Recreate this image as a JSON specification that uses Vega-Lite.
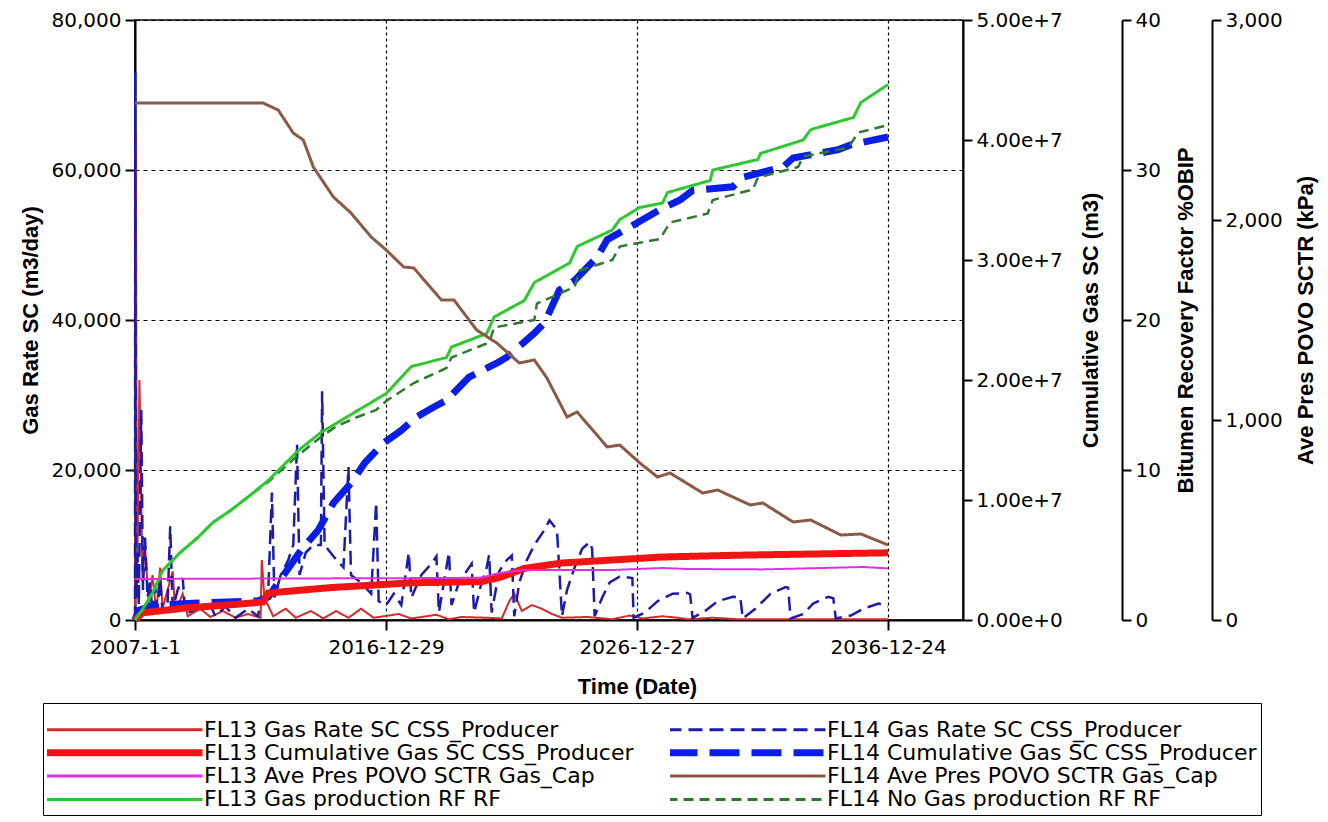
{
"$schema": "https://vega.github.io/schema/vega-lite/v6.json",
"width": 828, "height": 600,
"autosize": {"type": "none"},
"padding": {"left": 135, "top": 20, "right": 365, "bottom": 202},
"background": "white",
"config": {
 "view": {"stroke": "black", "strokeWidth": 1.5},
 "axis": {"labelFont": "DejaVu Sans", "labelFontSize": 20, "labelColor": "black", "titleFont": "Liberation Sans", "titleFontSize": 22, "titleFontWeight": "bold", "titleColor": "black", "domainColor": "black", "domainWidth": 2, "tickColor": "black", "tickWidth": 2, "tickSize": 10, "labelPadding": 5, "labelOverlap": false, "labelFlush": false, "labelBound": false},
 "line": {"interpolate": "linear"}
},
"datasets": {
 "a": [
  {"series":"FL13 Gas Rate SC CSS_Producer","date":"2007-01-01","value":0},
  {"series":"FL13 Gas Rate SC CSS_Producer","date":"2007-01-12","value":65000},
  {"series":"FL13 Gas Rate SC CSS_Producer","date":"2007-01-30","value":3000},
  {"series":"FL13 Gas Rate SC CSS_Producer","date":"2007-03-07","value":32000},
  {"series":"FL13 Gas Rate SC CSS_Producer","date":"2007-04-20","value":5000},
  {"series":"FL13 Gas Rate SC CSS_Producer","date":"2007-05-27","value":10000},
  {"series":"FL13 Gas Rate SC CSS_Producer","date":"2007-07-20","value":2000},
  {"series":"FL13 Gas Rate SC CSS_Producer","date":"2007-09-13","value":6000},
  {"series":"FL13 Gas Rate SC CSS_Producer","date":"2007-11-07","value":1000},
  {"series":"FL13 Gas Rate SC CSS_Producer","date":"2008-01-01","value":7000},
  {"series":"FL13 Gas Rate SC CSS_Producer","date":"2008-02-06","value":1500},
  {"series":"FL13 Gas Rate SC CSS_Producer","date":"2008-07-02","value":6500},
  {"series":"FL13 Gas Rate SC CSS_Producer","date":"2008-08-08","value":1000},
  {"series":"FL13 Gas Rate SC CSS_Producer","date":"2008-11-25","value":3500},
  {"series":"FL13 Gas Rate SC CSS_Producer","date":"2009-02-06","value":500},
  {"series":"FL13 Gas Rate SC CSS_Producer","date":"2009-08-08","value":1500},
  {"series":"FL13 Gas Rate SC CSS_Producer","date":"2010-01-01","value":400},
  {"series":"FL13 Gas Rate SC CSS_Producer","date":"2010-07-02","value":1200},
  {"series":"FL13 Gas Rate SC CSS_Producer","date":"2011-01-01","value":300},
  {"series":"FL13 Gas Rate SC CSS_Producer","date":"2011-07-02","value":800},
  {"series":"FL13 Gas Rate SC CSS_Producer","date":"2012-01-01","value":300},
  {"series":"FL13 Gas Rate SC CSS_Producer","date":"2012-01-19","value":8000},
  {"series":"FL13 Gas Rate SC CSS_Producer","date":"2012-02-25","value":3000},
  {"series":"FL13 Gas Rate SC CSS_Producer","date":"2012-07-02","value":500},
  {"series":"FL13 Gas Rate SC CSS_Producer","date":"2013-01-01","value":1500},
  {"series":"FL13 Gas Rate SC CSS_Producer","date":"2013-05-27","value":300},
  {"series":"FL13 Gas Rate SC CSS_Producer","date":"2014-01-01","value":1200},
  {"series":"FL13 Gas Rate SC CSS_Producer","date":"2014-07-02","value":200},
  {"series":"FL13 Gas Rate SC CSS_Producer","date":"2015-01-01","value":1200},
  {"series":"FL13 Gas Rate SC CSS_Producer","date":"2015-07-02","value":300},
  {"series":"FL13 Gas Rate SC CSS_Producer","date":"2016-01-01","value":1500},
  {"series":"FL13 Gas Rate SC CSS_Producer","date":"2016-07-02","value":300},
  {"series":"FL13 Gas Rate SC CSS_Producer","date":"2017-07-02","value":800},
  {"series":"FL13 Gas Rate SC CSS_Producer","date":"2018-01-01","value":200},
  {"series":"FL13 Gas Rate SC CSS_Producer","date":"2019-01-01","value":700},
  {"series":"FL13 Gas Rate SC CSS_Producer","date":"2019-07-02","value":100},
  {"series":"FL13 Gas Rate SC CSS_Producer","date":"2020-01-01","value":400},
  {"series":"FL13 Gas Rate SC CSS_Producer","date":"2021-01-01","value":300},
  {"series":"FL13 Gas Rate SC CSS_Producer","date":"2021-08-08","value":200},
  {"series":"FL13 Gas Rate SC CSS_Producer","date":"2021-11-25","value":2500},
  {"series":"FL13 Gas Rate SC CSS_Producer","date":"2022-02-06","value":3500},
  {"series":"FL13 Gas Rate SC CSS_Producer","date":"2022-05-27","value":1200},
  {"series":"FL13 Gas Rate SC CSS_Producer","date":"2022-10-20","value":2000},
  {"series":"FL13 Gas Rate SC CSS_Producer","date":"2023-03-14","value":1500},
  {"series":"FL13 Gas Rate SC CSS_Producer","date":"2023-08-08","value":800},
  {"series":"FL13 Gas Rate SC CSS_Producer","date":"2024-01-01","value":300},
  {"series":"FL13 Gas Rate SC CSS_Producer","date":"2025-01-01","value":400},
  {"series":"FL13 Gas Rate SC CSS_Producer","date":"2026-01-01","value":100},
  {"series":"FL13 Gas Rate SC CSS_Producer","date":"2026-09-13","value":600},
  {"series":"FL13 Gas Rate SC CSS_Producer","date":"2027-03-14","value":200},
  {"series":"FL13 Gas Rate SC CSS_Producer","date":"2028-01-01","value":500},
  {"series":"FL13 Gas Rate SC CSS_Producer","date":"2028-08-08","value":300},
  {"series":"FL13 Gas Rate SC CSS_Producer","date":"2029-01-01","value":100},
  {"series":"FL13 Gas Rate SC CSS_Producer","date":"2030-01-01","value":300},
  {"series":"FL13 Gas Rate SC CSS_Producer","date":"2031-01-01","value":100},
  {"series":"FL13 Gas Rate SC CSS_Producer","date":"2036-12-24","value":100}
 ],
 "b": [
  {"series":"FL14 Gas Rate SC CSS_Producer","date":"2007-01-01","value":0},
  {"series":"FL14 Gas Rate SC CSS_Producer","date":"2007-01-05","value":73000},
  {"series":"FL14 Gas Rate SC CSS_Producer","date":"2007-01-15","value":3000},
  {"series":"FL14 Gas Rate SC CSS_Producer","date":"2007-02-06","value":9000},
  {"series":"FL14 Gas Rate SC CSS_Producer","date":"2007-02-25","value":2000},
  {"series":"FL14 Gas Rate SC CSS_Producer","date":"2007-04-02","value":28000},
  {"series":"FL14 Gas Rate SC CSS_Producer","date":"2007-04-27","value":4000},
  {"series":"FL14 Gas Rate SC CSS_Producer","date":"2007-05-27","value":11000},
  {"series":"FL14 Gas Rate SC CSS_Producer","date":"2007-07-02","value":3000},
  {"series":"FL14 Gas Rate SC CSS_Producer","date":"2007-08-08","value":5000},
  {"series":"FL14 Gas Rate SC CSS_Producer","date":"2007-09-13","value":1000},
  {"series":"FL14 Gas Rate SC CSS_Producer","date":"2007-10-20","value":4500},
  {"series":"FL14 Gas Rate SC CSS_Producer","date":"2007-11-25","value":1500},
  {"series":"FL14 Gas Rate SC CSS_Producer","date":"2008-01-01","value":5500},
  {"series":"FL14 Gas Rate SC CSS_Producer","date":"2008-02-06","value":1000},
  {"series":"FL14 Gas Rate SC CSS_Producer","date":"2008-04-20","value":2500},
  {"series":"FL14 Gas Rate SC CSS_Producer","date":"2008-05-27","value":12500},
  {"series":"FL14 Gas Rate SC CSS_Producer","date":"2008-07-02","value":1500},
  {"series":"FL14 Gas Rate SC CSS_Producer","date":"2008-09-13","value":4000},
  {"series":"FL14 Gas Rate SC CSS_Producer","date":"2008-11-25","value":5600},
  {"series":"FL14 Gas Rate SC CSS_Producer","date":"2009-01-01","value":800},
  {"series":"FL14 Gas Rate SC CSS_Producer","date":"2009-07-02","value":1500},
  {"series":"FL14 Gas Rate SC CSS_Producer","date":"2010-01-01","value":2000},
  {"series":"FL14 Gas Rate SC CSS_Producer","date":"2010-03-14","value":500},
  {"series":"FL14 Gas Rate SC CSS_Producer","date":"2010-08-08","value":1800},
  {"series":"FL14 Gas Rate SC CSS_Producer","date":"2011-01-01","value":300},
  {"series":"FL14 Gas Rate SC CSS_Producer","date":"2011-07-02","value":1500},
  {"series":"FL14 Gas Rate SC CSS_Producer","date":"2011-11-25","value":500},
  {"series":"FL14 Gas Rate SC CSS_Producer","date":"2012-01-01","value":2500},
  {"series":"FL14 Gas Rate SC CSS_Producer","date":"2012-04-20","value":3500},
  {"series":"FL14 Gas Rate SC CSS_Producer","date":"2012-06-14","value":17000},
  {"series":"FL14 Gas Rate SC CSS_Producer","date":"2012-07-20","value":3000},
  {"series":"FL14 Gas Rate SC CSS_Producer","date":"2012-10-20","value":6000},
  {"series":"FL14 Gas Rate SC CSS_Producer","date":"2013-02-06","value":8000},
  {"series":"FL14 Gas Rate SC CSS_Producer","date":"2013-04-20","value":10000},
  {"series":"FL14 Gas Rate SC CSS_Producer","date":"2013-06-14","value":23500},
  {"series":"FL14 Gas Rate SC CSS_Producer","date":"2013-07-20","value":6000},
  {"series":"FL14 Gas Rate SC CSS_Producer","date":"2013-10-20","value":9000},
  {"series":"FL14 Gas Rate SC CSS_Producer","date":"2014-02-06","value":10000},
  {"series":"FL14 Gas Rate SC CSS_Producer","date":"2014-05-27","value":10000},
  {"series":"FL14 Gas Rate SC CSS_Producer","date":"2014-06-14","value":30500},
  {"series":"FL14 Gas Rate SC CSS_Producer","date":"2014-07-20","value":10000},
  {"series":"FL14 Gas Rate SC CSS_Producer","date":"2014-11-25","value":8500},
  {"series":"FL14 Gas Rate SC CSS_Producer","date":"2015-04-20","value":7000},
  {"series":"FL14 Gas Rate SC CSS_Producer","date":"2015-07-02","value":20400},
  {"series":"FL14 Gas Rate SC CSS_Producer","date":"2015-08-08","value":6000},
  {"series":"FL14 Gas Rate SC CSS_Producer","date":"2016-01-01","value":5000},
  {"series":"FL14 Gas Rate SC CSS_Producer","date":"2016-05-27","value":3500},
  {"series":"FL14 Gas Rate SC CSS_Producer","date":"2016-08-08","value":15700},
  {"series":"FL14 Gas Rate SC CSS_Producer","date":"2016-09-13","value":2500},
  {"series":"FL14 Gas Rate SC CSS_Producer","date":"2017-01-01","value":2000},
  {"series":"FL14 Gas Rate SC CSS_Producer","date":"2017-04-20","value":3500},
  {"series":"FL14 Gas Rate SC CSS_Producer","date":"2017-08-08","value":2000},
  {"series":"FL14 Gas Rate SC CSS_Producer","date":"2017-11-25","value":9000},
  {"series":"FL14 Gas Rate SC CSS_Producer","date":"2018-01-01","value":3000},
  {"series":"FL14 Gas Rate SC CSS_Producer","date":"2018-05-27","value":6000},
  {"series":"FL14 Gas Rate SC CSS_Producer","date":"2018-10-20","value":7500},
  {"series":"FL14 Gas Rate SC CSS_Producer","date":"2019-01-01","value":8500},
  {"series":"FL14 Gas Rate SC CSS_Producer","date":"2019-02-06","value":1000},
  {"series":"FL14 Gas Rate SC CSS_Producer","date":"2019-07-02","value":9000},
  {"series":"FL14 Gas Rate SC CSS_Producer","date":"2019-08-08","value":2000},
  {"series":"FL14 Gas Rate SC CSS_Producer","date":"2019-11-25","value":5000},
  {"series":"FL14 Gas Rate SC CSS_Producer","date":"2020-03-14","value":6500},
  {"series":"FL14 Gas Rate SC CSS_Producer","date":"2020-05-27","value":7500},
  {"series":"FL14 Gas Rate SC CSS_Producer","date":"2020-07-02","value":1000},
  {"series":"FL14 Gas Rate SC CSS_Producer","date":"2020-10-20","value":5000},
  {"series":"FL14 Gas Rate SC CSS_Producer","date":"2021-01-01","value":7000},
  {"series":"FL14 Gas Rate SC CSS_Producer","date":"2021-02-06","value":8700},
  {"series":"FL14 Gas Rate SC CSS_Producer","date":"2021-03-14","value":1000},
  {"series":"FL14 Gas Rate SC CSS_Producer","date":"2021-07-02","value":6500},
  {"series":"FL14 Gas Rate SC CSS_Producer","date":"2021-10-20","value":8000},
  {"series":"FL14 Gas Rate SC CSS_Producer","date":"2022-01-01","value":8600},
  {"series":"FL14 Gas Rate SC CSS_Producer","date":"2022-02-06","value":500},
  {"series":"FL14 Gas Rate SC CSS_Producer","date":"2022-04-20","value":5000},
  {"series":"FL14 Gas Rate SC CSS_Producer","date":"2022-08-08","value":8000},
  {"series":"FL14 Gas Rate SC CSS_Producer","date":"2022-11-25","value":10000},
  {"series":"FL14 Gas Rate SC CSS_Producer","date":"2023-04-20","value":12000},
  {"series":"FL14 Gas Rate SC CSS_Producer","date":"2023-07-02","value":13300},
  {"series":"FL14 Gas Rate SC CSS_Producer","date":"2023-10-20","value":12000},
  {"series":"FL14 Gas Rate SC CSS_Producer","date":"2024-01-01","value":500},
  {"series":"FL14 Gas Rate SC CSS_Producer","date":"2024-03-14","value":4000},
  {"series":"FL14 Gas Rate SC CSS_Producer","date":"2024-07-02","value":7000},
  {"series":"FL14 Gas Rate SC CSS_Producer","date":"2024-10-20","value":9500},
  {"series":"FL14 Gas Rate SC CSS_Producer","date":"2025-02-06","value":10400},
  {"series":"FL14 Gas Rate SC CSS_Producer","date":"2025-03-14","value":9500},
  {"series":"FL14 Gas Rate SC CSS_Producer","date":"2025-04-20","value":500},
  {"series":"FL14 Gas Rate SC CSS_Producer","date":"2025-08-08","value":3000},
  {"series":"FL14 Gas Rate SC CSS_Producer","date":"2025-11-25","value":5000},
  {"series":"FL14 Gas Rate SC CSS_Producer","date":"2026-04-20","value":5800},
  {"series":"FL14 Gas Rate SC CSS_Producer","date":"2026-10-20","value":5600},
  {"series":"FL14 Gas Rate SC CSS_Producer","date":"2026-11-07","value":300},
  {"series":"FL14 Gas Rate SC CSS_Producer","date":"2027-04-20","value":1000},
  {"series":"FL14 Gas Rate SC CSS_Producer","date":"2027-10-20","value":2500},
  {"series":"FL14 Gas Rate SC CSS_Producer","date":"2028-05-27","value":3500},
  {"series":"FL14 Gas Rate SC CSS_Producer","date":"2029-01-01","value":3600},
  {"series":"FL14 Gas Rate SC CSS_Producer","date":"2029-02-06","value":3400},
  {"series":"FL14 Gas Rate SC CSS_Producer","date":"2029-03-14","value":300},
  {"series":"FL14 Gas Rate SC CSS_Producer","date":"2029-09-13","value":1200},
  {"series":"FL14 Gas Rate SC CSS_Producer","date":"2030-03-14","value":2500},
  {"series":"FL14 Gas Rate SC CSS_Producer","date":"2030-10-20","value":3100},
  {"series":"FL14 Gas Rate SC CSS_Producer","date":"2031-02-06","value":3000},
  {"series":"FL14 Gas Rate SC CSS_Producer","date":"2031-03-14","value":200},
  {"series":"FL14 Gas Rate SC CSS_Producer","date":"2031-09-13","value":1500},
  {"series":"FL14 Gas Rate SC CSS_Producer","date":"2032-04-20","value":3500},
  {"series":"FL14 Gas Rate SC CSS_Producer","date":"2032-11-25","value":4400},
  {"series":"FL14 Gas Rate SC CSS_Producer","date":"2033-01-01","value":4300},
  {"series":"FL14 Gas Rate SC CSS_Producer","date":"2033-02-06","value":200},
  {"series":"FL14 Gas Rate SC CSS_Producer","date":"2033-08-08","value":800},
  {"series":"FL14 Gas Rate SC CSS_Producer","date":"2034-01-01","value":2200},
  {"series":"FL14 Gas Rate SC CSS_Producer","date":"2034-08-08","value":3100},
  {"series":"FL14 Gas Rate SC CSS_Producer","date":"2034-10-20","value":2900},
  {"series":"FL14 Gas Rate SC CSS_Producer","date":"2034-11-25","value":200},
  {"series":"FL14 Gas Rate SC CSS_Producer","date":"2035-07-02","value":600},
  {"series":"FL14 Gas Rate SC CSS_Producer","date":"2036-01-01","value":1500},
  {"series":"FL14 Gas Rate SC CSS_Producer","date":"2036-08-08","value":2200},
  {"series":"FL14 Gas Rate SC CSS_Producer","date":"2036-12-24","value":1800}
 ],
 "c": [
  {"series":"FL13 Cumulative Gas SC CSS_Producer","date":"2007-01-01","value":0},
  {"series":"FL13 Cumulative Gas SC CSS_Producer","date":"2007-04-20","value":600000},
  {"series":"FL13 Cumulative Gas SC CSS_Producer","date":"2009-01-01","value":1000000},
  {"series":"FL13 Cumulative Gas SC CSS_Producer","date":"2011-01-01","value":1300000},
  {"series":"FL13 Cumulative Gas SC CSS_Producer","date":"2012-02-06","value":1500000},
  {"series":"FL13 Cumulative Gas SC CSS_Producer","date":"2012-04-20","value":2250000},
  {"series":"FL13 Cumulative Gas SC CSS_Producer","date":"2014-10-20","value":2700000},
  {"series":"FL13 Cumulative Gas SC CSS_Producer","date":"2018-01-01","value":3100000},
  {"series":"FL13 Cumulative Gas SC CSS_Producer","date":"2020-10-20","value":3200000},
  {"series":"FL13 Cumulative Gas SC CSS_Producer","date":"2021-08-08","value":3600000},
  {"series":"FL13 Cumulative Gas SC CSS_Producer","date":"2022-07-02","value":4300000},
  {"series":"FL13 Cumulative Gas SC CSS_Producer","date":"2024-01-01","value":4750000},
  {"series":"FL13 Cumulative Gas SC CSS_Producer","date":"2026-01-01","value":5000000},
  {"series":"FL13 Cumulative Gas SC CSS_Producer","date":"2028-01-01","value":5250000},
  {"series":"FL13 Cumulative Gas SC CSS_Producer","date":"2031-01-01","value":5400000},
  {"series":"FL13 Cumulative Gas SC CSS_Producer","date":"2036-12-24","value":5600000}
 ],
 "d": [
  {"series":"FL14 Cumulative Gas SC CSS_Producer","date":"2007-01-01","value":0},
  {"series":"FL14 Cumulative Gas SC CSS_Producer","date":"2007-02-25","value":800000},
  {"series":"FL14 Cumulative Gas SC CSS_Producer","date":"2007-09-13","value":1200000},
  {"series":"FL14 Cumulative Gas SC CSS_Producer","date":"2009-04-20","value":1400000},
  {"series":"FL14 Cumulative Gas SC CSS_Producer","date":"2011-11-25","value":1600000},
  {"series":"FL14 Cumulative Gas SC CSS_Producer","date":"2012-04-20","value":1900000},
  {"series":"FL14 Cumulative Gas SC CSS_Producer","date":"2013-08-08","value":5800000},
  {"series":"FL14 Cumulative Gas SC CSS_Producer","date":"2014-04-20","value":7500000},
  {"series":"FL14 Cumulative Gas SC CSS_Producer","date":"2014-11-25","value":9750000},
  {"series":"FL14 Cumulative Gas SC CSS_Producer","date":"2015-08-08","value":11400000},
  {"series":"FL14 Cumulative Gas SC CSS_Producer","date":"2016-02-25","value":13100000},
  {"series":"FL14 Cumulative Gas SC CSS_Producer","date":"2016-11-25","value":14750000},
  {"series":"FL14 Cumulative Gas SC CSS_Producer","date":"2017-08-08","value":15800000},
  {"series":"FL14 Cumulative Gas SC CSS_Producer","date":"2018-03-14","value":16900000},
  {"series":"FL14 Cumulative Gas SC CSS_Producer","date":"2018-11-25","value":17750000},
  {"series":"FL14 Cumulative Gas SC CSS_Producer","date":"2019-05-27","value":18300000},
  {"series":"FL14 Cumulative Gas SC CSS_Producer","date":"2020-04-20","value":20250000},
  {"series":"FL14 Cumulative Gas SC CSS_Producer","date":"2021-05-27","value":21400000},
  {"series":"FL14 Cumulative Gas SC CSS_Producer","date":"2021-10-20","value":21900000},
  {"series":"FL14 Cumulative Gas SC CSS_Producer","date":"2022-11-25","value":23900000},
  {"series":"FL14 Cumulative Gas SC CSS_Producer","date":"2023-04-20","value":24750000},
  {"series":"FL14 Cumulative Gas SC CSS_Producer","date":"2023-11-25","value":27500000},
  {"series":"FL14 Cumulative Gas SC CSS_Producer","date":"2024-07-02","value":28300000},
  {"series":"FL14 Cumulative Gas SC CSS_Producer","date":"2025-05-27","value":30250000},
  {"series":"FL14 Cumulative Gas SC CSS_Producer","date":"2025-10-20","value":31700000},
  {"series":"FL14 Cumulative Gas SC CSS_Producer","date":"2027-01-01","value":33100000},
  {"series":"FL14 Cumulative Gas SC CSS_Producer","date":"2027-11-25","value":34200000},
  {"series":"FL14 Cumulative Gas SC CSS_Producer","date":"2028-09-13","value":35000000},
  {"series":"FL14 Cumulative Gas SC CSS_Producer","date":"2029-03-14","value":35800000},
  {"series":"FL14 Cumulative Gas SC CSS_Producer","date":"2030-10-20","value":36100000},
  {"series":"FL14 Cumulative Gas SC CSS_Producer","date":"2031-03-14","value":36900000},
  {"series":"FL14 Cumulative Gas SC CSS_Producer","date":"2032-10-20","value":37750000},
  {"series":"FL14 Cumulative Gas SC CSS_Producer","date":"2033-03-14","value":38500000},
  {"series":"FL14 Cumulative Gas SC CSS_Producer","date":"2035-01-01","value":39200000},
  {"series":"FL14 Cumulative Gas SC CSS_Producer","date":"2035-07-02","value":39600000},
  {"series":"FL14 Cumulative Gas SC CSS_Producer","date":"2036-12-24","value":40250000}
 ],
 "e": [
  {"series":"FL13 Ave Pres POVO SCTR Gas_Cap","date":"2007-01-01","value":205},
  {"series":"FL13 Ave Pres POVO SCTR Gas_Cap","date":"2019-07-02","value":210},
  {"series":"FL13 Ave Pres POVO SCTR Gas_Cap","date":"2020-10-20","value":212},
  {"series":"FL13 Ave Pres POVO SCTR Gas_Cap","date":"2021-07-02","value":235},
  {"series":"FL13 Ave Pres POVO SCTR Gas_Cap","date":"2022-07-02","value":250},
  {"series":"FL13 Ave Pres POVO SCTR Gas_Cap","date":"2026-01-01","value":250},
  {"series":"FL13 Ave Pres POVO SCTR Gas_Cap","date":"2028-01-01","value":260},
  {"series":"FL13 Ave Pres POVO SCTR Gas_Cap","date":"2029-01-01","value":255},
  {"series":"FL13 Ave Pres POVO SCTR Gas_Cap","date":"2032-01-01","value":253},
  {"series":"FL13 Ave Pres POVO SCTR Gas_Cap","date":"2035-01-01","value":262},
  {"series":"FL13 Ave Pres POVO SCTR Gas_Cap","date":"2036-01-01","value":265},
  {"series":"FL13 Ave Pres POVO SCTR Gas_Cap","date":"2036-12-24","value":258}
 ],
 "f": [
  {"series":"FL14 Ave Pres POVO SCTR Gas_Cap","date":"2007-01-01","value":2585},
  {"series":"FL14 Ave Pres POVO SCTR Gas_Cap","date":"2012-02-06","value":2585},
  {"series":"FL14 Ave Pres POVO SCTR Gas_Cap","date":"2012-09-13","value":2550},
  {"series":"FL14 Ave Pres POVO SCTR Gas_Cap","date":"2013-04-20","value":2435},
  {"series":"FL14 Ave Pres POVO SCTR Gas_Cap","date":"2013-09-13","value":2400},
  {"series":"FL14 Ave Pres POVO SCTR Gas_Cap","date":"2014-02-06","value":2265},
  {"series":"FL14 Ave Pres POVO SCTR Gas_Cap","date":"2014-11-25","value":2115},
  {"series":"FL14 Ave Pres POVO SCTR Gas_Cap","date":"2015-08-08","value":2035},
  {"series":"FL14 Ave Pres POVO SCTR Gas_Cap","date":"2016-05-27","value":1915},
  {"series":"FL14 Ave Pres POVO SCTR Gas_Cap","date":"2017-01-01","value":1850},
  {"series":"FL14 Ave Pres POVO SCTR Gas_Cap","date":"2017-09-13","value":1765},
  {"series":"FL14 Ave Pres POVO SCTR Gas_Cap","date":"2018-02-06","value":1760},
  {"series":"FL14 Ave Pres POVO SCTR Gas_Cap","date":"2019-03-14","value":1600},
  {"series":"FL14 Ave Pres POVO SCTR Gas_Cap","date":"2019-09-13","value":1600},
  {"series":"FL14 Ave Pres POVO SCTR Gas_Cap","date":"2020-08-08","value":1450},
  {"series":"FL14 Ave Pres POVO SCTR Gas_Cap","date":"2021-05-27","value":1385},
  {"series":"FL14 Ave Pres POVO SCTR Gas_Cap","date":"2022-04-20","value":1285},
  {"series":"FL14 Ave Pres POVO SCTR Gas_Cap","date":"2022-11-25","value":1300},
  {"series":"FL14 Ave Pres POVO SCTR Gas_Cap","date":"2023-05-27","value":1210},
  {"series":"FL14 Ave Pres POVO SCTR Gas_Cap","date":"2024-03-14","value":1015},
  {"series":"FL14 Ave Pres POVO SCTR Gas_Cap","date":"2024-08-08","value":1040},
  {"series":"FL14 Ave Pres POVO SCTR Gas_Cap","date":"2025-10-20","value":865},
  {"series":"FL14 Ave Pres POVO SCTR Gas_Cap","date":"2026-04-20","value":875},
  {"series":"FL14 Ave Pres POVO SCTR Gas_Cap","date":"2027-02-06","value":785},
  {"series":"FL14 Ave Pres POVO SCTR Gas_Cap","date":"2027-10-20","value":715},
  {"series":"FL14 Ave Pres POVO SCTR Gas_Cap","date":"2028-04-20","value":735},
  {"series":"FL14 Ave Pres POVO SCTR Gas_Cap","date":"2029-08-08","value":635},
  {"series":"FL14 Ave Pres POVO SCTR Gas_Cap","date":"2030-03-14","value":650},
  {"series":"FL14 Ave Pres POVO SCTR Gas_Cap","date":"2031-07-02","value":575},
  {"series":"FL14 Ave Pres POVO SCTR Gas_Cap","date":"2032-01-01","value":585},
  {"series":"FL14 Ave Pres POVO SCTR Gas_Cap","date":"2033-03-14","value":490},
  {"series":"FL14 Ave Pres POVO SCTR Gas_Cap","date":"2033-11-25","value":500},
  {"series":"FL14 Ave Pres POVO SCTR Gas_Cap","date":"2035-02-06","value":425},
  {"series":"FL14 Ave Pres POVO SCTR Gas_Cap","date":"2035-11-25","value":430},
  {"series":"FL14 Ave Pres POVO SCTR Gas_Cap","date":"2036-12-24","value":375}
 ],
 "g": [
  {"series":"FL13 Gas production RF RF","date":"2007-01-01","value":0},
  {"series":"FL13 Gas production RF RF","date":"2007-04-20","value":0.7},
  {"series":"FL13 Gas production RF RF","date":"2007-09-13","value":1.8},
  {"series":"FL13 Gas production RF RF","date":"2008-02-06","value":3.3},
  {"series":"FL13 Gas production RF RF","date":"2008-10-20","value":4.5},
  {"series":"FL13 Gas production RF RF","date":"2009-07-02","value":5.5},
  {"series":"FL13 Gas production RF RF","date":"2010-02-06","value":6.5},
  {"series":"FL13 Gas production RF RF","date":"2010-10-20","value":7.3},
  {"series":"FL13 Gas production RF RF","date":"2011-07-02","value":8.2},
  {"series":"FL13 Gas production RF RF","date":"2012-04-20","value":9.3},
  {"series":"FL13 Gas production RF RF","date":"2013-07-02","value":11.3},
  {"series":"FL13 Gas production RF RF","date":"2014-05-27","value":12.5},
  {"series":"FL13 Gas production RF RF","date":"2015-05-27","value":13.5},
  {"series":"FL13 Gas production RF RF","date":"2016-08-08","value":14.7},
  {"series":"FL13 Gas production RF RF","date":"2017-01-01","value":15.1},
  {"series":"FL13 Gas production RF RF","date":"2018-01-01","value":16.9},
  {"series":"FL13 Gas production RF RF","date":"2019-05-27","value":17.5},
  {"series":"FL13 Gas production RF RF","date":"2019-08-08","value":18.2},
  {"series":"FL13 Gas production RF RF","date":"2021-01-01","value":19.1},
  {"series":"FL13 Gas production RF RF","date":"2021-04-20","value":20.2},
  {"series":"FL13 Gas production RF RF","date":"2022-07-02","value":21.3},
  {"series":"FL13 Gas production RF RF","date":"2022-11-25","value":22.5},
  {"series":"FL13 Gas production RF RF","date":"2024-04-20","value":23.8},
  {"series":"FL13 Gas production RF RF","date":"2024-08-08","value":24.9},
  {"series":"FL13 Gas production RF RF","date":"2026-01-01","value":26.0},
  {"series":"FL13 Gas production RF RF","date":"2026-04-20","value":26.7},
  {"series":"FL13 Gas production RF RF","date":"2027-02-06","value":27.5},
  {"series":"FL13 Gas production RF RF","date":"2028-01-01","value":27.8},
  {"series":"FL13 Gas production RF RF","date":"2028-03-14","value":28.5},
  {"series":"FL13 Gas production RF RF","date":"2029-11-25","value":29.3},
  {"series":"FL13 Gas production RF RF","date":"2030-01-01","value":30.0},
  {"series":"FL13 Gas production RF RF","date":"2031-10-20","value":30.7},
  {"series":"FL13 Gas production RF RF","date":"2031-11-25","value":31.1},
  {"series":"FL13 Gas production RF RF","date":"2033-08-08","value":32.0},
  {"series":"FL13 Gas production RF RF","date":"2033-11-25","value":32.7},
  {"series":"FL13 Gas production RF RF","date":"2035-08-08","value":33.5},
  {"series":"FL13 Gas production RF RF","date":"2035-11-25","value":34.5},
  {"series":"FL13 Gas production RF RF","date":"2036-12-24","value":35.7}
 ],
 "h": [
  {"series":"FL14 No Gas production RF RF","date":"2007-01-01","value":0},
  {"series":"FL14 No Gas production RF RF","date":"2007-04-20","value":0.7},
  {"series":"FL14 No Gas production RF RF","date":"2007-09-13","value":1.8},
  {"series":"FL14 No Gas production RF RF","date":"2008-02-06","value":3.3},
  {"series":"FL14 No Gas production RF RF","date":"2008-10-20","value":4.5},
  {"series":"FL14 No Gas production RF RF","date":"2009-07-02","value":5.5},
  {"series":"FL14 No Gas production RF RF","date":"2010-02-06","value":6.5},
  {"series":"FL14 No Gas production RF RF","date":"2010-10-20","value":7.3},
  {"series":"FL14 No Gas production RF RF","date":"2011-07-02","value":8.2},
  {"series":"FL14 No Gas production RF RF","date":"2012-04-20","value":9.2},
  {"series":"FL14 No Gas production RF RF","date":"2013-07-02","value":11.0},
  {"series":"FL14 No Gas production RF RF","date":"2014-05-27","value":12.2},
  {"series":"FL14 No Gas production RF RF","date":"2015-01-01","value":12.9},
  {"series":"FL14 No Gas production RF RF","date":"2015-10-20","value":13.5},
  {"series":"FL14 No Gas production RF RF","date":"2016-08-08","value":14.0},
  {"series":"FL14 No Gas production RF RF","date":"2017-01-01","value":14.6},
  {"series":"FL14 No Gas production RF RF","date":"2018-02-06","value":15.8},
  {"series":"FL14 No Gas production RF RF","date":"2019-05-27","value":16.8},
  {"series":"FL14 No Gas production RF RF","date":"2019-08-08","value":17.5},
  {"series":"FL14 No Gas production RF RF","date":"2021-02-06","value":18.5},
  {"series":"FL14 No Gas production RF RF","date":"2021-04-20","value":19.5},
  {"series":"FL14 No Gas production RF RF","date":"2022-11-25","value":20.0},
  {"series":"FL14 No Gas production RF RF","date":"2023-01-01","value":21.1},
  {"series":"FL14 No Gas production RF RF","date":"2024-07-02","value":22.2},
  {"series":"FL14 No Gas production RF RF","date":"2024-09-13","value":23.3},
  {"series":"FL14 No Gas production RF RF","date":"2026-01-01","value":24.0},
  {"series":"FL14 No Gas production RF RF","date":"2026-04-20","value":24.9},
  {"series":"FL14 No Gas production RF RF","date":"2027-11-25","value":25.4},
  {"series":"FL14 No Gas production RF RF","date":"2028-04-20","value":26.5},
  {"series":"FL14 No Gas production RF RF","date":"2029-10-20","value":27.1},
  {"series":"FL14 No Gas production RF RF","date":"2030-01-01","value":28.0},
  {"series":"FL14 No Gas production RF RF","date":"2031-08-08","value":28.7},
  {"series":"FL14 No Gas production RF RF","date":"2031-10-20","value":29.5},
  {"series":"FL14 No Gas production RF RF","date":"2033-05-27","value":30.2},
  {"series":"FL14 No Gas production RF RF","date":"2033-08-08","value":30.9},
  {"series":"FL14 No Gas production RF RF","date":"2035-05-27","value":31.5},
  {"series":"FL14 No Gas production RF RF","date":"2035-10-20","value":32.5},
  {"series":"FL14 No Gas production RF RF","date":"2036-12-24","value":33.0}
 ]
},
"encoding": {
 "x": {"field": "date", "type": "temporal",
   "scale": {"type": "utc", "domain": [1167609600000, 2207865600000], "nice": false},
   "axis": {"title": "Time (Date)", "values": [1167609600000, 1482969600000, 1798329600000, 2113689600000], "format": "%Y-%-m-%-d", "grid": true, "gridColor": "black", "gridDash": [3, 3], "gridWidth": 1.2, "titleX": 502, "titleY": 66, "titleAlign": "center", "titleBaseline": "middle", "labelPadding": 7}},
 "color": {"field": "series", "type": "nominal",
   "scale": {"domain": ["FL13 Gas Rate SC CSS_Producer", "FL13 Cumulative Gas SC CSS_Producer", "FL13 Ave Pres POVO SCTR Gas_Cap", "FL13 Gas production RF RF", "FL14 Gas Rate SC CSS_Producer", "FL14 Cumulative Gas SC CSS_Producer", "FL14 Ave Pres POVO SCTR Gas_Cap", "FL14 No Gas production RF RF"],
     "range": ["#d42a2a", "#f01515", "#e030e0", "#30c830", "#1c1ca8", "#0a1ee6", "#8a5a46", "#2e7a2e"]},
   "legend": {"orient": "none", "legendX": -92, "legendY": 683, "columns": 2, "title": " ", "titleFontSize": 10, "titlePadding": 2, "symbolType": "stroke", "symbolSize": 24964, "symbolOffset": -4, "clipHeight": 21, "rowPadding": 0.3, "columnPadding": 36, "labelFont": "DejaVu Sans", "labelFontSize": 22, "labelColor": "black", "labelLimit": 1000, "labelOffset": 0, "strokeColor": "black", "padding": 4, "fillColor": "white",
     "encode": {"symbols": {"update": {"strokeWidth": {"signal": "(indexof(['FL13 Cumulative Gas SC CSS_Producer','FL14 Cumulative Gas SC CSS_Producer'], datum.value) >= 0 ? 7 : 3)"}}}}}},
 "strokeDash": {"field": "series", "type": "nominal",
   "scale": {"domain": ["FL13 Gas Rate SC CSS_Producer", "FL13 Cumulative Gas SC CSS_Producer", "FL13 Ave Pres POVO SCTR Gas_Cap", "FL13 Gas production RF RF", "FL14 Gas Rate SC CSS_Producer", "FL14 Cumulative Gas SC CSS_Producer", "FL14 Ave Pres POVO SCTR Gas_Cap", "FL14 No Gas production RF RF"],
     "range": [[1, 0], [1, 0], [1, 0], [1, 0], [14, 7], [30, 12], [1, 0], [10, 6]]},
   "legend": {"orient": "none", "legendX": -92, "legendY": 683, "columns": 2, "title": " ", "titleFontSize": 10, "titlePadding": 2, "symbolType": "stroke", "symbolSize": 24964, "symbolOffset": -4, "clipHeight": 21, "rowPadding": 0.3, "columnPadding": 36, "labelFont": "DejaVu Sans", "labelFontSize": 22, "labelColor": "black", "labelLimit": 1000, "labelOffset": 0, "strokeColor": "black", "padding": 4, "fillColor": "white",
     "encode": {"symbols": {"update": {"strokeWidth": {"signal": "(indexof(['FL13 Cumulative Gas SC CSS_Producer','FL14 Cumulative Gas SC CSS_Producer'], datum.value) >= 0 ? 7 : 3)"}}}}}}
},
"layer": [
 {"encoding": {"y": {"field": "value", "type": "quantitative", "scale": {"domain": [0, 80000], "nice": false},
    "axis": {"orient": "left", "title": "Gas Rate SC (m3/day)", "values": [0, 20000, 40000, 60000, 80000], "format": ",d", "grid": true, "gridColor": "black", "gridDash": [4, 4], "gridWidth": 1.2, "titleAngle": 270, "titleX": -105, "titleY": 300, "titleAlign": "center", "titleBaseline": "middle", "labelPadding": 4}}},
  "layer": [
   {"data": {"name": "a"}, "mark": {"type": "line", "strokeWidth": 2}},
   {"data": {"name": "b"}, "mark": {"type": "line", "strokeWidth": 2.5}}
  ]},
 {"encoding": {"y": {"field": "value", "type": "quantitative", "scale": {"domain": [0, 50000000], "nice": false},
    "axis": {"orient": "right", "offset": 0, "title": "Cumulative Gas SC (m3)", "values": [0, 10000000, 20000000, 30000000, 40000000, 50000000], "format": ".2e", "grid": false, "tickSize": 9, "titleAngle": 270, "titleX": 127, "titleY": 300, "titleAlign": "center", "titleBaseline": "middle", "labelPadding": 4}}},
  "layer": [
   {"data": {"name": "d"}, "mark": {"type": "line", "strokeWidth": 7}},
   {"data": {"name": "c"}, "mark": {"type": "line", "strokeWidth": 7}}
  ]},
 {"encoding": {"y": {"field": "value", "type": "quantitative", "scale": {"domain": [0, 40], "nice": false},
    "axis": {"orient": "right", "offset": 159, "title": "Bitumen Recovery Factor  %OBIP", "values": [0, 10, 20, 30, 40], "format": "d", "grid": false, "tickSize": 9, "titleAngle": 270, "titleX": 63, "titleY": 300, "titleAlign": "center", "titleBaseline": "middle", "labelPadding": 4}}},
  "layer": [
   {"data": {"name": "h"}, "mark": {"type": "line", "strokeWidth": 2.5}},
   {"data": {"name": "g"}, "mark": {"type": "line", "strokeWidth": 3}}
  ]},
 {"encoding": {"y": {"field": "value", "type": "quantitative", "scale": {"domain": [0, 3000], "nice": false},
    "axis": {"orient": "right", "offset": 249, "title": "Ave Pres POVO SCTR (kPa)", "values": [0, 1000, 2000, 3000], "format": ",d", "grid": false, "tickSize": 9, "titleAngle": 270, "titleX": 93, "titleY": 300, "titleAlign": "center", "titleBaseline": "middle", "labelPadding": 4}}},
  "layer": [
   {"data": {"name": "e"}, "mark": {"type": "line", "strokeWidth": 2}},
   {"data": {"name": "f"}, "mark": {"type": "line", "strokeWidth": 3}}
  ]}
],
"resolve": {"scale": {"y": "independent"}, "axis": {"y": "independent"}}
}
